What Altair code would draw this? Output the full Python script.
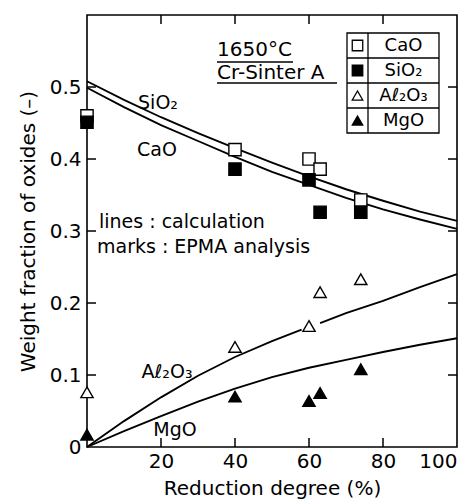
import altair as alt
import pandas as pd

FONT = "DejaVu Sans"

# Calculated curves (weight fraction vs. reduction degree)
x_calc = [0, 10, 20, 30, 40, 50, 60, 70, 80, 90, 100]
sio2_calc = [0.508, 0.482, 0.458, 0.436, 0.415, 0.395, 0.376, 0.358, 0.342, 0.327, 0.314]
cao_calc = [0.499, 0.472, 0.447, 0.425, 0.403, 0.382, 0.364, 0.346, 0.330, 0.316, 0.303]
mgo_calc = [0.0, 0.022, 0.043, 0.063, 0.081, 0.097, 0.110, 0.121, 0.132, 0.142, 0.151]
# the Al2O3 curve is interrupted next to the 60 % marker
al2o3_x1 = [0, 10, 20, 30, 40, 50, 58]
al2o3_y1 = [0.0, 0.036, 0.069, 0.099, 0.125, 0.147, 0.163]
al2o3_x2 = [63, 70, 80, 90, 100]
al2o3_y2 = [0.172, 0.186, 0.203, 0.222, 0.240]

# EPMA measurements
x_meas = [0, 40, 60, 63, 74]
cao_meas = [0.460, 0.413, 0.400, 0.386, 0.343]
sio2_meas = [0.451, 0.386, 0.371, 0.326, 0.326]
al2o3_meas = [0.076, 0.139, 0.168, 0.215, 0.233]
mgo_meas = [0.017, 0.070, 0.064, 0.075, 0.108]

x_ticks = [20, 40, 60, 80]
y_ticks = [0.1, 0.2, 0.3, 0.4, 0.5]
x_labels = [20, 40, 60, 80, 100]
y_labels = [0, 0.1, 0.2, 0.3, 0.4, 0.5]

W, H = 370, 432

calc = pd.concat([
    pd.DataFrame({"series": name, "x": xv, "y": vals})
    for name, xv, vals in [("SiO2", x_calc, sio2_calc), ("CaO", x_calc, cao_calc),
                           ("Al2O3 a", al2o3_x1, al2o3_y1),
                           ("Al2O3 b", al2o3_x2, al2o3_y2),
                           ("MgO", x_calc, mgo_calc)]
])

xs = alt.Scale(domain=[0, 100], nice=False, zero=False)
ys = alt.Scale(domain=[0, 0.6], nice=False, zero=False)

x_axis = alt.Axis(values=x_labels, ticks=False, domain=False, grid=False,
                  labelFontSize=20, labelFont=FONT, labelPadding=4,
                  title="Reduction degree (%)", titleFontSize=20,
                  titleFont=FONT, titleFontWeight="normal", titlePadding=7)
y_axis = alt.Axis(values=y_labels, ticks=False, domain=False, grid=False,
                  labelFontSize=20, labelFont=FONT, labelPadding=6,
                  labelExpr="datum.value == 0 ? '0' : format(datum.value, '.1f')",
                  title="Weight fraction of oxides (–)", titleFontSize=20,
                  titleFont=FONT, titleFontWeight="normal", titlePadding=11)

lines = alt.Chart(calc).mark_line(color="black", strokeWidth=1.9).encode(
    x=alt.X("x:Q", scale=xs, axis=x_axis),
    y=alt.Y("y:Q", scale=ys, axis=y_axis),
    detail="series:N",
)


def points(vals, shape, filled):
    df = pd.DataFrame({"x": x_meas, "y": vals})
    return alt.Chart(df).mark_point(
        shape=shape, size=150, filled=True,
        fill="black" if filled else "white",
        stroke="black", strokeWidth=1.4, opacity=1,
    ).encode(x=alt.X("x:Q", scale=xs), y=alt.Y("y:Q", scale=ys))


one = pd.DataFrame({"k": [0]})


def label(text, x, y, size=19, align="left"):
    return alt.Chart(one).mark_text(
        text=text, align=align, baseline="middle", fontSize=size, font=FONT,
        color="black",
    ).encode(x=alt.value(x), y=alt.value(y))


def rule(x, x2, y, y2, width=1.5):
    return alt.Chart(one).mark_rule(color="black", strokeWidth=width).encode(
        x=alt.value(x), x2=alt.value(x2), y=alt.value(y), y2=alt.value(y2))


def tick_rules():
    tx = pd.DataFrame({"v": x_ticks})
    ty = pd.DataFrame({"v": y_ticks})
    base_x = alt.Chart(tx).mark_rule(color="black", strokeWidth=1.5)
    base_y = alt.Chart(ty).mark_rule(color="black", strokeWidth=1.5)
    return [
        base_x.encode(x=alt.X("v:Q", scale=xs), y=alt.value(H), y2=alt.value(H - 9)),
        base_x.encode(x=alt.X("v:Q", scale=xs), y=alt.value(0), y2=alt.value(9)),
        base_y.encode(y=alt.Y("v:Q", scale=ys), x=alt.value(0), x2=alt.value(9)),
        base_y.encode(y=alt.Y("v:Q", scale=ys), x=alt.value(W - 9), x2=alt.value(W)),
    ]


# Legend table
lx0, lx1, lxd = 260, 352, 281
ly0, row = 18, 25
legend_rows = [("CaO", "square", False), ("SiO₂", "square", True),
               ("Aℓ₂O₃", "triangle-up", False), ("MgO", "triangle-up", True)]
legend = [
    alt.Chart(one).mark_rect(fill="white", stroke="black", strokeWidth=1.3).encode(
        x=alt.value(lx0), x2=alt.value(lx1), y=alt.value(ly0), y2=alt.value(ly0 + 4 * row)),
    rule(lxd, lxd, ly0, ly0 + 4 * row, 1.3),
]
for i, (name, shape, filled) in enumerate(legend_rows):
    cy = ly0 + row * i + row / 2
    if i > 0:
        legend.append(rule(lx0, lx1, ly0 + row * i, ly0 + row * i, 1.3))
    legend.append(
        alt.Chart(one).mark_point(shape=shape, size=110, filled=True,
                                  fill="black" if filled else "white",
                                  stroke="black", strokeWidth=1.3, opacity=1)
        .encode(x=alt.value((lx0 + lxd) / 2), y=alt.value(cy)))
    legend.append(label(name, (lxd + lx1) / 2, cy, 18, "center"))

annotations = [
    label("SiO₂", 71, 88, 19, "center"),
    label("CaO", 70, 135, 19, "center"),
    label("Aℓ₂O₃", 80, 357, 19, "center"),
    label("MgO", 88, 415, 19, "center"),
    label("lines : calculation", 12, 207, 19),
    label("marks : EPMA analysis", 10, 232, 19),
    label("1650°C", 130, 35, 20),
    rule(130, 206, 47, 47, 1.3),
    label("Cr-Sinter  A", 130, 58, 20),
    rule(130, 250, 68, 68, 1.3),
]

chart = alt.layer(
    lines,
    *tick_rules(),
    points(cao_meas, "square", False),
    points(sio2_meas, "square", True),
    points(al2o3_meas, "triangle-up", False),
    points(mgo_meas, "triangle-up", True),
    *annotations,
    *legend,
).properties(
    width=W, height=H,
    autosize=alt.AutoSizeParams(type="none"),
    padding={"left": 87, "top": 15, "right": 14, "bottom": 54},
    background="white",
).configure_view(stroke="black", strokeWidth=1.6)

chart.save("out.html", embed_options={"renderer": "svg", "actions": False})
